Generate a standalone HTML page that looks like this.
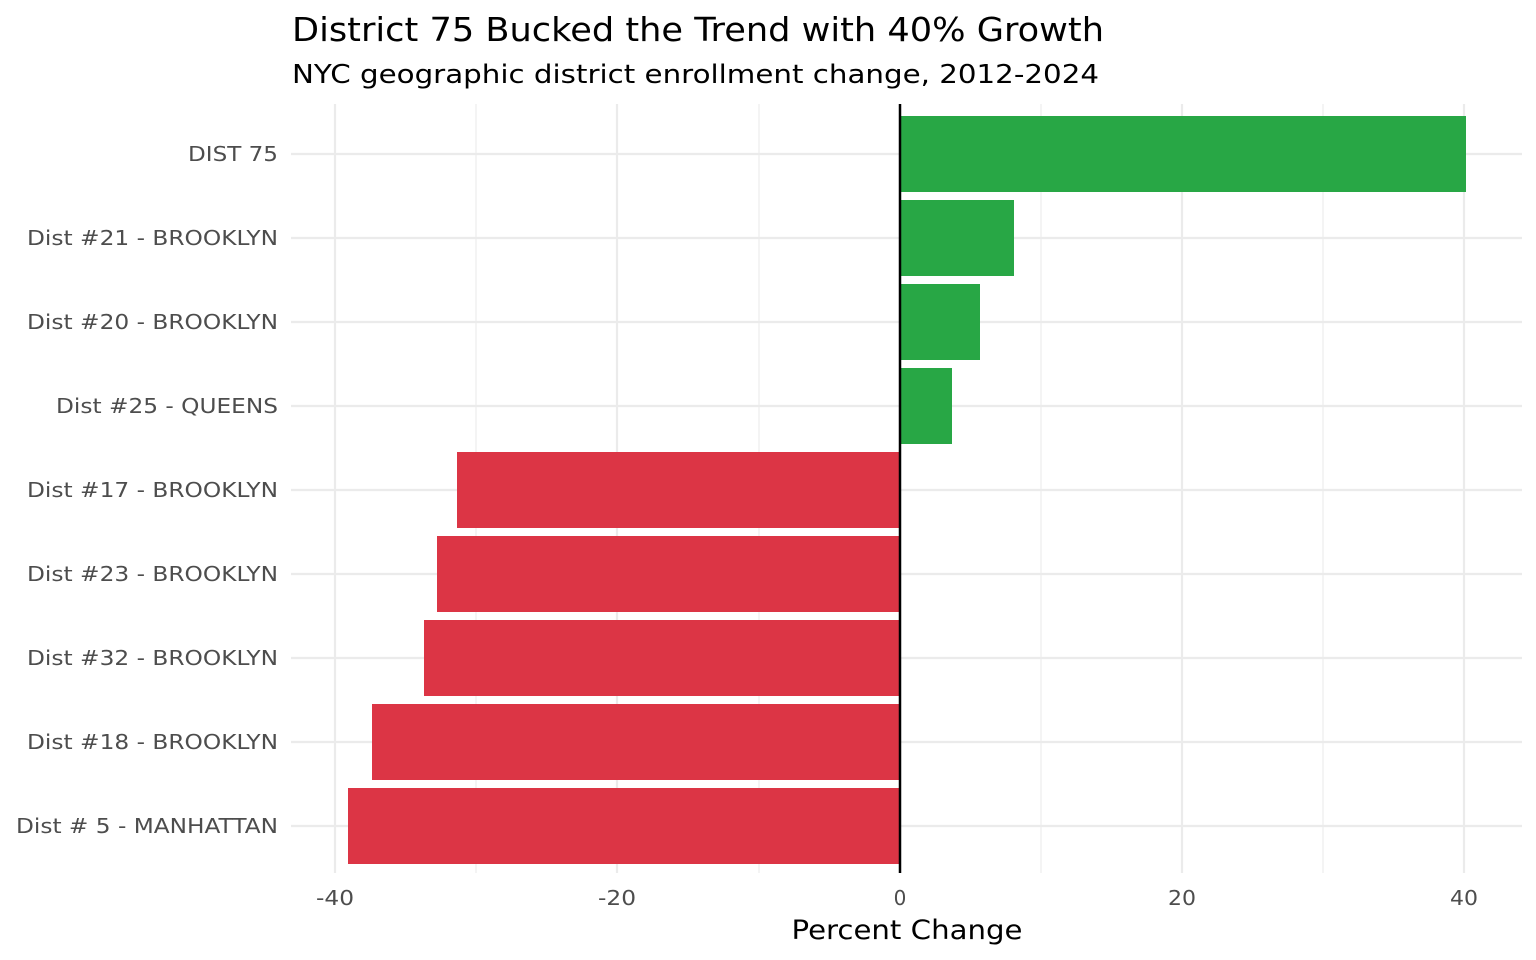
<!DOCTYPE html>
<html><head><meta charset="utf-8"><style>
html,body{margin:0;padding:0;background:#fff;}
svg{display:block;font-family:"DejaVu Sans","Liberation Sans",sans-serif;}
</style></head><body>
<svg width="1536" height="960" viewBox="0 0 1536 960" xmlns="http://www.w3.org/2000/svg">
<rect width="1536" height="960" fill="#fff"/>
<g stroke="#ebebeb" stroke-width="1.1">
<line x1="476" y1="104" x2="476" y2="873"/><line x1="759" y1="104" x2="759" y2="873"/>
<line x1="1041" y1="104" x2="1041" y2="873"/><line x1="1323" y1="104" x2="1323" y2="873"/>
</g>
<g stroke="#ebebeb" stroke-width="2.2">
<line x1="335" y1="104" x2="335" y2="873"/><line x1="617" y1="104" x2="617" y2="873"/>
<line x1="1182" y1="104" x2="1182" y2="873"/><line x1="1464" y1="104" x2="1464" y2="873"/>
<line x1="291" y1="154" x2="1522" y2="154"/><line x1="291" y1="238" x2="1522" y2="238"/>
<line x1="291" y1="322" x2="1522" y2="322"/><line x1="291" y1="406" x2="1522" y2="406"/>
<line x1="291" y1="490" x2="1522" y2="490"/><line x1="291" y1="574" x2="1522" y2="574"/>
<line x1="291" y1="658" x2="1522" y2="658"/><line x1="291" y1="742" x2="1522" y2="742"/>
<line x1="291" y1="826" x2="1522" y2="826"/>
</g>
<g fill="#28a745">
<rect x="900" y="116" width="566" height="76"/>
<rect x="900" y="200" width="114" height="76"/>
<rect x="900" y="284" width="80" height="76"/>
<rect x="900" y="368" width="52" height="76"/>
</g>
<g fill="#dc3545">
<rect x="457" y="452" width="443" height="76"/>
<rect x="437" y="536" width="463" height="76"/>
<rect x="424" y="620" width="476" height="76"/>
<rect x="372" y="704" width="528" height="76"/>
<rect x="348" y="788" width="552" height="76"/>
</g>
<line x1="900" y1="104" x2="900" y2="873" stroke="#000" stroke-width="2.5"/>
<g fill="#4d4d4d" font-size="20" text-anchor="end" lengthAdjust="spacingAndGlyphs">
<text x="278" y="161" textLength="90" lengthAdjust="spacingAndGlyphs">DIST 75</text>
<text x="278" y="245" textLength="251" lengthAdjust="spacingAndGlyphs">Dist #21 - BROOKLYN</text>
<text x="278" y="329" textLength="251" lengthAdjust="spacingAndGlyphs">Dist #20 - BROOKLYN</text>
<text x="278" y="413" textLength="222" lengthAdjust="spacingAndGlyphs">Dist #25 - QUEENS</text>
<text x="278" y="497" textLength="251" lengthAdjust="spacingAndGlyphs">Dist #17 - BROOKLYN</text>
<text x="278" y="581" textLength="251" lengthAdjust="spacingAndGlyphs">Dist #23 - BROOKLYN</text>
<text x="278" y="665" textLength="251" lengthAdjust="spacingAndGlyphs">Dist #32 - BROOKLYN</text>
<text x="278" y="749" textLength="251" lengthAdjust="spacingAndGlyphs">Dist #18 - BROOKLYN</text>
<text x="278" y="833" textLength="262" lengthAdjust="spacingAndGlyphs">Dist # 5 - MANHATTAN</text>
</g>
<g fill="#4d4d4d" font-size="20" text-anchor="middle">
<text x="335" y="905" textLength="38" lengthAdjust="spacingAndGlyphs">-40</text>
<text x="617" y="905" textLength="38" lengthAdjust="spacingAndGlyphs">-20</text>
<text x="900" y="905">0</text>
<text x="1182" y="905" textLength="28" lengthAdjust="spacingAndGlyphs">20</text>
<text x="1464" y="905" textLength="28" lengthAdjust="spacingAndGlyphs">40</text>
</g>
<text x="907" y="939" font-size="27" text-anchor="middle" fill="#000" textLength="231" lengthAdjust="spacingAndGlyphs">Percent Change</text>
<text x="292" y="41" font-size="33" fill="#000" textLength="812" lengthAdjust="spacingAndGlyphs">District 75 Bucked the Trend with 40% Growth</text>
<text x="292" y="83" font-size="26" fill="#000" textLength="807" lengthAdjust="spacingAndGlyphs">NYC geographic district enrollment change, 2012-2024</text>
</svg>
</body></html>
